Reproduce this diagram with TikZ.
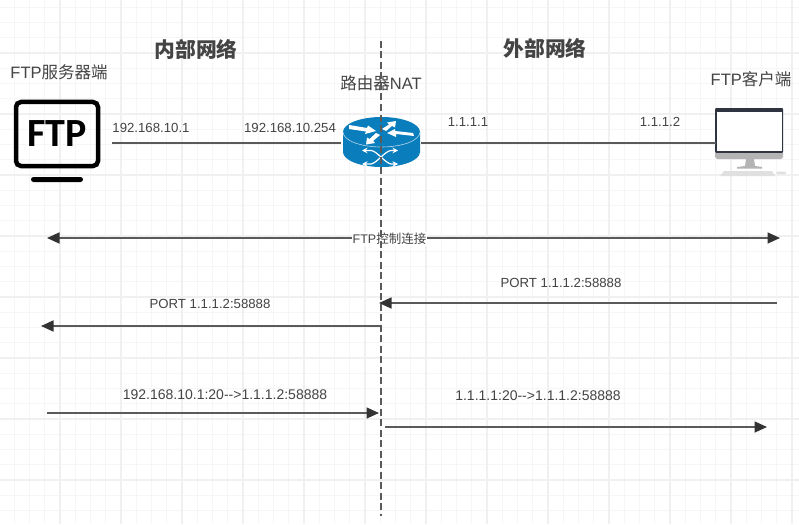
\documentclass[tikz,border=0pt]{standalone}
\usepackage{fontspec}
\setmainfont{Liberation Sans}
\newfontfamily\cjk{Noto Sans CJK SC}
\newfontfamily\iconfont{Carlito}
\usetikzlibrary{arrows.meta}
\definecolor{LineGray}{HTML}{5a5a5a}
\definecolor{TipGray}{HTML}{333333}
\definecolor{TextGray}{HTML}{444444}
\definecolor{RouterBlue}{HTML}{0a7dbd}
\definecolor{BezelDark}{HTML}{2f3440}
\definecolor{ChinGray}{HTML}{b4b4b4}
\tikzset{
    gridminor/.style={draw=black!3.5,line width=1.3pt},
    gridmajor/.style={draw=black!6,line width=1.3pt},
    wire/.style={draw=LineGray,line width=1.6pt},
    msg/.style={wire,-{Triangle[length=12.5pt,width=11pt,color=TipGray]}},
    msgboth/.style={wire,{Triangle[length=12.5pt,width=11pt,color=TipGray]}-{Triangle[length=12.5pt,width=11pt,color=TipGray]}},
    addr/.style={text=TextGray,font=\fontsize{13.2}{15}\selectfont,inner sep=0pt},
    dataaddr/.style={addr,font=\fontsize{14}{16}\selectfont},
    device/.style={text=TextGray,font=\fontsize{16.5}{18}\selectfont,inner sep=0pt},
    zone/.style={text=TextGray,font=\fontsize{20.8}{22}\selectfont\cjk\bfseries,inner sep=0pt},
    routerarrow/.style={fill=white,draw=none},
    routercross/.style={draw=white,line width=1.2pt,{Stealth[length=5.5pt,width=5.5pt]}-{Stealth[length=5.5pt,width=5.5pt]}},
}
\begin{document}
\begin{tikzpicture}[x=1pt,y=-1pt]
    \useasboundingbox (0,0) rectangle (799,524);
    \fill[white] (0,0) rectangle (799,524);
    % background grid
    \foreach \k in {0,...,52} \draw[gridminor] ({-1+15.25*\k},0) -- ({-1+15.25*\k},524);
    \foreach \k in {0,...,34} \draw[gridminor] (0,{-8+15.25*\k}) -- (799,{-8+15.25*\k});
    \foreach \k in {0,...,13} \draw[gridmajor] ({-1+61*\k},0) -- ({-1+61*\k},524);
    \foreach \k in {0,...,9} \draw[gridmajor] (0,{-8+61*\k}) -- (799,{-8+61*\k});

    \node[zone] (inner) at (196,49) {内部网络};
    \node[zone] (outer) at (545,48) {外部网络};

    % ftp server icon
    \node[draw=black,line width=4.5pt,rounded corners=5pt,minimum width=82pt,minimum height=64pt,inner sep=0pt,
        text=black,font=\fontsize{40}{42}\selectfont\iconfont\bfseries] (server) at (57,134) {FTP};
    \fill[black,rounded corners=2.5pt] (31,177) rectangle (83,182);
    \node[device] (serverlabel) at (59,72) {FTP{\cjk 服务器端}};

    % router
    \node[minimum width=78pt,minimum height=51pt,inner sep=0pt] (router) at (381.5,142.5) {};
    \fill[RouterBlue] (343,132) arc[start angle=180,end angle=360,x radius=38.5,y radius=15]
        -- (420,152) arc[start angle=0,end angle=180,x radius=38.5,y radius=15] -- cycle;
    \draw[white!70!RouterBlue,line width=0.6pt] (343,132) arc[start angle=180,end angle=0,x radius=38.5,y radius=15];
    \fill[routerarrow] (349,125) -- (367,128) -- (368,125.5) -- (376,131) -- (365,134) -- (366,131.5) -- (349,129) -- cycle;
    \fill[routerarrow] (382,129) -- (389,124.5) -- (387,122.5) -- (396,121) -- (395,127.5) -- (392,126) -- (386,131) -- cycle;
    \fill[routerarrow] (414,136) -- (396,134) -- (396,137) -- (387,133) -- (395,129) -- (395,131) -- (413,133) -- cycle;
    \fill[routerarrow] (380,135) -- (373,141) -- (375,143) -- (366,144.5) -- (367,137.5) -- (369.5,139) -- (376,133) -- cycle;
    \draw[routercross] (362,150.5) -- (371,150.5) .. controls (377,151) and (385,163) .. (391,164) -- (398,164);
    \draw[routercross] (362,164) -- (371,164) .. controls (377,163) and (385,151) .. (391,150.5) -- (398,150.5);
    \node[device] (routerlabel) at (381,83) {{\cjk 路由器}NAT};

    % ftp client icon
    \node[minimum width=68pt,minimum height=51pt,inner sep=0pt] (client) at (749,133.5) {};
    \fill[BezelDark,rounded corners=1pt] (715,108) rectangle (783,153);
    \fill[white] (716.5,112) rectangle (781.5,151);
    \fill[ChinGray] (715,153) -- (783,153) -- (783,157) -- (781,159) -- (717,159) -- (715,157) -- cycle;
    \fill[ChinGray] (746,159) -- (754,159) -- (755,166) -- (762,167) -- (762,168.5) -- (737,168.5) -- (737,167) -- (745,166) -- cycle;
    \fill[black!12] (724,171) -- (772,171) -- (775,176) -- (720,176) -- cycle;
    \fill[black!12,rounded corners=1pt] (776,171.5) rectangle (786,174);
    \node[device] (clientlabel) at (751,79) {FTP{\cjk 客户端}};

    % links
    \coordinate (serverport) at (112,143);
    \coordinate (routerleft) at (341,143);
    \coordinate (routerright) at (421,143);
    \coordinate (clientport) at (715.5,143);
    \draw[wire] (serverport) -- (routerleft);
    \draw[wire] (routerright) -- (clientport);
    \node[addr] (serverip) at (151,128) {192.168.10.1};
    \node[addr] (gatewayip) at (290,128) {192.168.10.254};
    \node[addr] (publicip) at (468,122) {1.1.1.1};
    \node[addr] (clientip) at (660,122) {1.1.1.2};

    % control connection
    \coordinate (ctrlleft) at (47,238);
    \coordinate (ctrlright) at (780,238);
    \draw[msgboth] (ctrlleft) -- (ctrlright);
    \node[addr,fill=white,inner xsep=1pt,inner ysep=1pt,font=\fontsize{12.5}{14}\selectfont] (ctrllabel) at (389.5,239) {FTP{\cjk 控制连接}};

    % port command
    \coordinate (portclient) at (776.5,303);
    \coordinate (portnat) at (379,303);
    \coordinate (portnatin) at (381,326);
    \coordinate (portserver) at (41,326);
    \draw[msg] (portclient) -- (portnat);
    \draw[msg] (portnatin) -- (portserver);
    \node[addr] (portout) at (561,283) {PORT 1.1.1.2:58888};
    \node[addr] (portin) at (210,304) {PORT 1.1.1.2:58888};

    % data connection
    \coordinate (dataserver) at (47,413);
    \coordinate (datanat) at (379,413);
    \coordinate (datanatout) at (385,427);
    \coordinate (dataclient) at (767,427);
    \draw[msg] (dataserver) -- (datanat);
    \draw[msg] (datanatout) -- (dataclient);
    \node[dataaddr] (datain) at (225,395) {192.168.10.1:20{-}{-}>1.1.1.2:58888};
    \node[dataaddr] (dataout) at (538,396) {1.1.1.1:20{-}{-}>1.1.1.2:58888};

    % boundary between the two networks
    \coordinate (bordertop) at (381,41);
    \coordinate (borderbottom) at (381,516);
    \draw[LineGray,line width=1.8pt,dash pattern=on 7pt off 3.5pt] (bordertop) -- (borderbottom);
\end{tikzpicture}
\end{document}
